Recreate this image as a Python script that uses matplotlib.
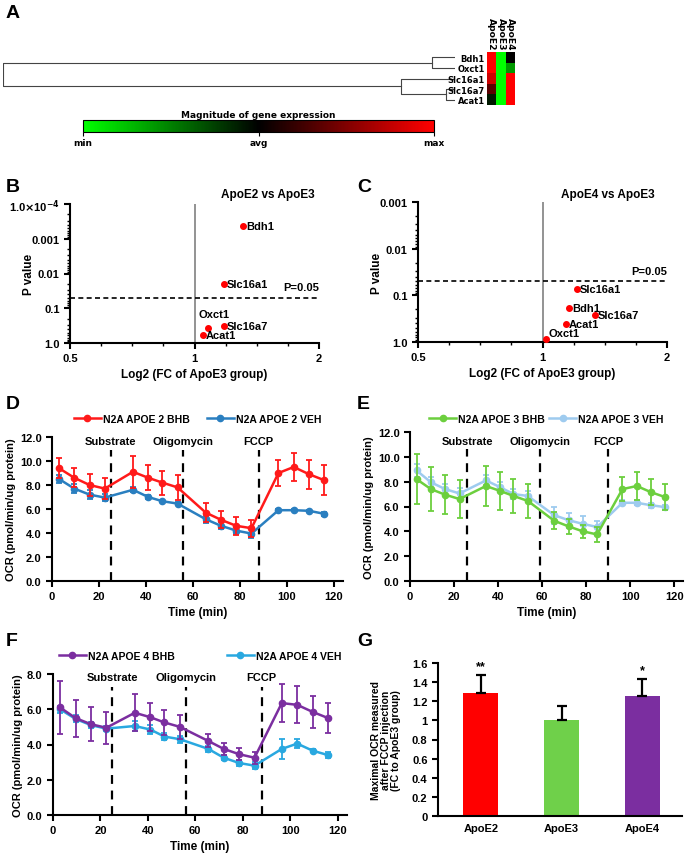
import numpy as np
import matplotlib
matplotlib.use('Agg')
import matplotlib.pyplot as plt
from matplotlib.colors import LinearSegmentedColormap, Normalize
from matplotlib.cm import ScalarMappable
from matplotlib.ticker import FixedLocator, NullFormatter, LogLocator
from matplotlib.lines import Line2D

plt.rcParams['font.family'] = ['Liberation Sans', 'DejaVu Sans']
plt.rcParams['font.weight'] = 'bold'
plt.rcParams['axes.labelweight'] = 'bold'
plt.rcParams['mathtext.default'] = 'bf'

W, H = 700, 854

# ---------------- data ----------------
# A: heatmap + dendrogram
genes = ['Bdh1', 'Oxct1', 'Slc16a1', 'Slc16a7', 'Acat1']
groups = ['ApoE2', 'ApoE3', 'ApoE4']
expr = [[1.0, -1.0, 0.0],
        [1.0, -1.0, -0.6],
        [0.8, -1.0, 1.0],
        [0.35, -1.0, 1.0],
        [-0.1, -1.0, 1.0]]
# linkage rows (left id, right id, height); ids >= 5 are merged clusters
links = [(0, 1, 0.049), (3, 4, 0.018), (2, 6, 0.117), (5, 7, 1.0)]

# B: ApoE2 vs ApoE3
b_genes = ['Bdh1', 'Slc16a1', 'Oxct1', 'Slc16a7', 'Acat1']
b_fc = [1.31, 1.18, 1.08, 1.18, 1.05]
b_p = [4.2e-4, 0.02, 0.37, 0.32, 0.59]
b_yticklabels = [r'1.0$\times$10$^{-4}$', '0.001', '0.01', '0.1', '1.0']

# C: ApoE4 vs ApoE3
c_genes = ['Slc16a1', 'Bdh1', 'Slc16a7', 'Acat1', 'Oxct1']
c_fc = [1.21, 1.16, 1.34, 1.14, 1.02]
c_p = [0.072, 0.19, 0.27, 0.41, 0.85]
c_yticklabels = ['0.001', '0.01', '0.1', '1.0']

# D-F: seahorse OCR traces
time_min = [3, 9.5, 16, 22.5, 34.5, 41, 47, 53.5, 65.5, 72, 78.5, 85, 96.5, 103, 109.5, 116]
injections = ['Substrate', 'Oligomycin', 'FCCP']

d_bhb = [9.4, 8.6, 8.0, 7.7, 9.1, 8.6, 8.2, 7.8, 5.7, 5.1, 4.6, 4.4, 9.0, 9.5, 8.9, 8.4]
d_bhb_err = [0.85, 0.8, 0.9, 0.85, 1.35, 1.05, 1.0, 1.05, 0.8, 0.7, 0.75, 0.7, 1.1, 1.15, 1.2, 1.25]
d_veh = [8.5, 7.7, 7.2, 6.95, 7.6, 7.0, 6.65, 6.45, 5.15, 4.6, 4.2, 3.95, 5.9, 5.9, 5.85, 5.6]
d_veh_err = [0.3, 0.35, 0.35, 0.3, 0.2, 0.15, 0.1, 0.15, 0.3, 0.3, 0.3, 0.35, 0.1, 0.1, 0.1, 0.15]
d_inject = [25, 56, 88]

e_bhb = [8.2, 7.4, 6.95, 6.6, 7.65, 7.25, 6.85, 6.45, 4.85, 4.4, 4.0, 3.75, 7.4, 7.65, 7.15, 6.75]
e_bhb_err = [2.0, 1.8, 1.55, 1.5, 1.6, 1.5, 1.35, 1.35, 0.7, 0.6, 0.5, 0.6, 0.95, 1.1, 1.05, 1.05]
e_veh = [8.9, 7.95, 7.4, 7.05, 8.1, 7.55, 7.0, 6.85, 5.3, 4.9, 4.6, 4.35, 6.3, 6.3, 6.1, 5.95]
e_veh_err = [0.5, 0.4, 0.4, 0.4, 0.4, 0.4, 0.4, 0.4, 0.7, 0.6, 0.6, 0.5, 0.2, 0.2, 0.2, 0.2]
e_inject = [26, 59, 90]

f_bhb = [6.1, 5.5, 5.15, 4.95, 5.8, 5.55, 5.25, 5.0, 4.2, 3.75, 3.45, 3.25, 6.35, 6.25, 5.85, 5.5]
f_bhb_err = [1.5, 1.05, 0.95, 0.9, 1.05, 0.8, 0.7, 0.7, 0.37, 0.35, 0.33, 0.35, 1.1, 1.05, 0.9, 0.85]
f_veh = [6.0, 5.45, 5.1, 4.9, 5.05, 4.85, 4.45, 4.3, 3.75, 3.25, 2.95, 2.8, 3.75, 4.05, 3.65, 3.4]
f_veh_err = [0.2, 0.2, 0.15, 0.15, 0.3, 0.25, 0.2, 0.2, 0.15, 0.15, 0.15, 0.2, 0.55, 0.25, 0.1, 0.15]
f_inject = [25, 56, 88]

# G: maximal OCR after FCCP
g_groups = ['ApoE2', 'ApoE3', 'ApoE4']
g_fc = [1.29, 1.0, 1.25]
g_err = [0.18, 0.15, 0.18]
g_sig = ['**', '', '*']


def px_rect(x0, y0, x1, y1):
    # pixel box (top-left origin) -> figure fraction rect
    return [x0 / W, 1 - y1 / H, (x1 - x0) / W, (y1 - y0) / H]


def style_axes(ax, lw=1.5):
    for s in ['top', 'right']:
        ax.spines[s].set_visible(False)
    for s in ['left', 'bottom']:
        ax.spines[s].set_linewidth(lw)
    ax.tick_params(width=lw, length=4, labelsize=8)


fig = plt.figure(figsize=(W / 100, H / 100), dpi=100)

# panel letters
for letter, (x, y) in {'A': (6, 14), 'B': (6, 187), 'C': (357, 187), 'D': (6, 405),
                       'E': (357, 405), 'F': (6, 642), 'G': (357, 642)}.items():
    fig.text(x / W, 1 - y / H, letter, fontsize=14, fontweight='bold', va='center', ha='left')

# ---------------- A ----------------
ax_den = fig.add_axes(px_rect(3, 53, 455, 106))
pos = {i: (float(i), 0.0) for i in range(len(genes))}
for k, (a, b, h) in enumerate(links):
    ya, ha_ = pos[a]
    yb, hb = pos[b]
    ax_den.plot([ha_, h, h, hb], [ya, ya, yb, yb], color='#444444', lw=0.8)
    pos[len(genes) + k] = ((ya + yb) / 2, h)
ax_den.set_xlim(1.0, -0.002)
ax_den.set_ylim(len(genes) - 0.5, -0.5)
ax_den.axis('off')

gcmap = LinearSegmentedColormap.from_list('gbr', ['#00ff00', '#000000', '#ff0000'])
ax_hm = fig.add_axes(px_rect(487, 53, 515, 106))
ax_hm.imshow(np.array(expr), cmap=gcmap, vmin=-1, vmax=1, aspect='auto', interpolation='nearest')
ax_hm.xaxis.tick_top()
ax_hm.set_xticks(range(len(groups)))
ax_hm.set_xticklabels(groups, rotation=-90, fontsize=6.6, family='DejaVu Sans')
ax_hm.set_yticks(range(len(genes)))
ax_hm.set_yticklabels(genes, fontsize=6, family='DejaVu Sans')
ax_hm.tick_params(length=0, pad=1.5)
for s in ax_hm.spines.values():
    s.set_visible(False)

cax = fig.add_axes(px_rect(83, 121, 434, 133))
cb = fig.colorbar(ScalarMappable(norm=Normalize(-1, 1), cmap=gcmap), cax=cax,
                  orientation='horizontal', ticks=[-1, 0, 1])
cb.set_ticklabels(['min', 'avg', 'max'])
cb.outline.set_linewidth(0.8)
cax.tick_params(labelsize=6.5, length=3, width=0.8, pad=1)
for t in cax.get_xticklabels():
    t.set_family('DejaVu Sans')
cax.set_title('Magnitude of gene expression', fontsize=6.5, pad=2, family='DejaVu Sans', fontweight='bold')


# ---------------- B, C ----------------
def volcano(rect, genes_, fc, p, ymin, ylabels, title, title_xy, offsets):
    ax = fig.add_axes(px_rect(*rect))
    ax.set_xscale('log', base=2)
    ax.set_yscale('log')
    ax.set_xlim(0.5, 2)
    ax.set_ylim(1, ymin)
    ax.axvline(1, color='#808080', lw=1.2, zorder=1)
    ax.axhline(0.05, color='k', lw=1.2, ls=(0, (3, 2)), zorder=1)
    ax.plot(fc, p, 'o', color='#ff0000', ms=4, zorder=3, clip_on=False)
    for g, x, y in zip(genes_, fc, p):
        dx, dy, ha = offsets.get(g, (2, 0, 'left'))
        ax.annotate(g, (x, y), xytext=(dx, dy), textcoords='offset points',
                    ha=ha, va='center', fontsize=8)
    ax.annotate('P=0.05', (2, 0.05), xytext=(0, 4), textcoords='offset points',
                ha='right', va='bottom', fontsize=8)
    ax.set_xticks([0.5, 1, 2])
    ax.set_xticklabels(['0.5', '1', '2'])
    ax.xaxis.set_minor_locator(FixedLocator(2.0 ** np.array([-0.75, -0.5, -0.25, 0.25, 0.5, 0.75])))
    ax.xaxis.set_minor_formatter(NullFormatter())
    yt = [ymin * 10.0 ** k for k in range(len(ylabels))]
    ax.set_yticks(yt)
    ax.set_yticklabels(ylabels)
    ax.yaxis.set_minor_locator(LogLocator(base=10, subs=np.arange(2, 10)))
    ax.yaxis.set_minor_formatter(NullFormatter())
    style_axes(ax)
    ax.tick_params(which='minor', length=2, width=1)
    ax.set_ylabel('P value', fontsize=8.5)
    ax.yaxis.set_label_coords(-0.14, 0.5)
    ax.set_xlabel('Log2 (FC of ApoE3 group)', fontsize=8.5, labelpad=3)
    ax.text(title_xy[0], title_xy[1], title, transform=ax.transAxes, ha='center', va='center', fontsize=8.5)
    return ax


volcano((70, 205, 319, 344), b_genes, b_fc, b_p, 1e-4, b_yticklabels,
        'ApoE2 vs ApoE3', (0.795, 1.07), {'Oxct1': (-7, 10, 'left')})
volcano((418, 203, 667, 343), c_genes, c_fc, c_p, 1e-3, c_yticklabels,
        'ApoE4 vs ApoE3', (0.763, 1.06), {'Oxct1': (2, 4, 'left')})


# ---------------- D, E, F ----------------
def ocr_panel(rect, ymax, yticks, bhb, bhb_err, veh, veh_err, c_bhb, c_veh, lab_bhb, lab_veh,
              inject, text_y, dash_top, leg_y, colsp):
    ax = fig.add_axes(px_rect(*rect))
    for t, name in zip(inject, injections):
        ax.vlines(t, 0, dash_top, colors='k', lw=1.6, linestyles=(0, (4, 3)), zorder=1)
        ax.text(t, text_y, name, ha='center', va='center', fontsize=8)
    ax.errorbar(time_min, veh, yerr=veh_err, fmt='-o', color=c_veh, ms=4.5, lw=1.8,
                elinewidth=1.3, capsize=2.5, capthick=1.3, zorder=3)
    ax.errorbar(time_min, bhb, yerr=bhb_err, fmt='-o', color=c_bhb, ms=4.5, lw=1.8,
                elinewidth=1.3, capsize=2.5, capthick=1.3, zorder=4)
    ax.set_xlim(0, 124)
    ax.set_ylim(0, ymax)
    ax.set_xticks(range(0, 121, 20))
    ax.set_yticks(yticks)
    ax.set_yticklabels(['%.1f' % v for v in yticks])
    style_axes(ax)
    ax.set_xlabel('Time (min)', fontsize=8.5, labelpad=3)
    ax.set_ylabel('OCR (pmol/min/ug protein)', fontsize=8, labelpad=3)
    handles = [Line2D([], [], color=c_bhb, marker='o', ms=4.5, lw=1.8),
               Line2D([], [], color=c_veh, marker='o', ms=4.5, lw=1.8)]
    ax.legend(handles, [lab_bhb, lab_veh], loc='center', bbox_to_anchor=(0.5, leg_y), ncol=2,
              frameon=False, fontsize=7.5, handlelength=2.6, handletextpad=0.2,
              columnspacing=colsp, borderpad=0)
    return ax


ocr_panel((52, 438, 343, 582), 12, np.arange(0, 12.1, 2), d_bhb, d_bhb_err, d_veh, d_veh_err,
          '#ff1a1a', '#2a7fc0', 'N2A APOE 2 BHB', 'N2A APOE 2 VEH',
          d_inject, 11.65, 10.9, 1 + 18 / 144, 1.6)
ocr_panel((410, 433, 683, 582), 12, np.arange(0, 12.1, 2), e_bhb, e_bhb_err, e_veh, e_veh_err,
          '#6ccf3e', '#9ecbef', 'N2A APOE 3 BHB', 'N2A APOE 3 VEH',
          e_inject, 11.3, 10.6, 1 + 13 / 149, 0.4)
ocr_panel((53, 675, 347, 816), 8, np.arange(0, 8.1, 2), f_bhb, f_bhb_err, f_veh, f_veh_err,
          '#7b2ea0', '#29a8e0', 'N2A APOE 4 BHB', 'N2A APOE 4 VEH',
          f_inject, 7.85, 7.27, 1 + 18 / 141, 5.0)

# ---------------- G ----------------
axg = fig.add_axes(px_rect(438, 664, 682, 817))
xg = np.arange(len(g_groups))
axg.bar(xg, g_fc, width=0.43, color=['#ff0000', '#6fd04a', '#7b2ea0'], zorder=2)
axg.errorbar(xg, g_fc, yerr=[np.zeros(len(g_fc)), g_err], fmt='none', ecolor='k',
             elinewidth=1.6, capsize=3.5, capthick=1.6, zorder=3)
for x, v, e, s in zip(xg, g_fc, g_err, g_sig):
    if s:
        axg.text(x, v + e + 0.1, s, ha='center', va='center', fontsize=9, clip_on=False)
axg.set_xlim(-0.53, 2.49)
axg.set_ylim(0, 1.6)
axg.set_yticks(np.arange(0, 1.61, 0.2))
axg.set_yticklabels(['0', '0.2', '0.4', '0.6', '0.8', '1', '1.2', '1.4', '1.6'])
axg.set_xticks(xg)
axg.set_xticklabels(g_groups)
style_axes(axg)
axg.tick_params(axis='x', length=0, pad=5)
axg.set_ylabel('Maximal OCR measured\nafter FCCP injection\n(FC to ApoE3 group)', fontsize=7.5,
               labelpad=8, linespacing=1.0)

fig.savefig('out.png', dpi=100)
